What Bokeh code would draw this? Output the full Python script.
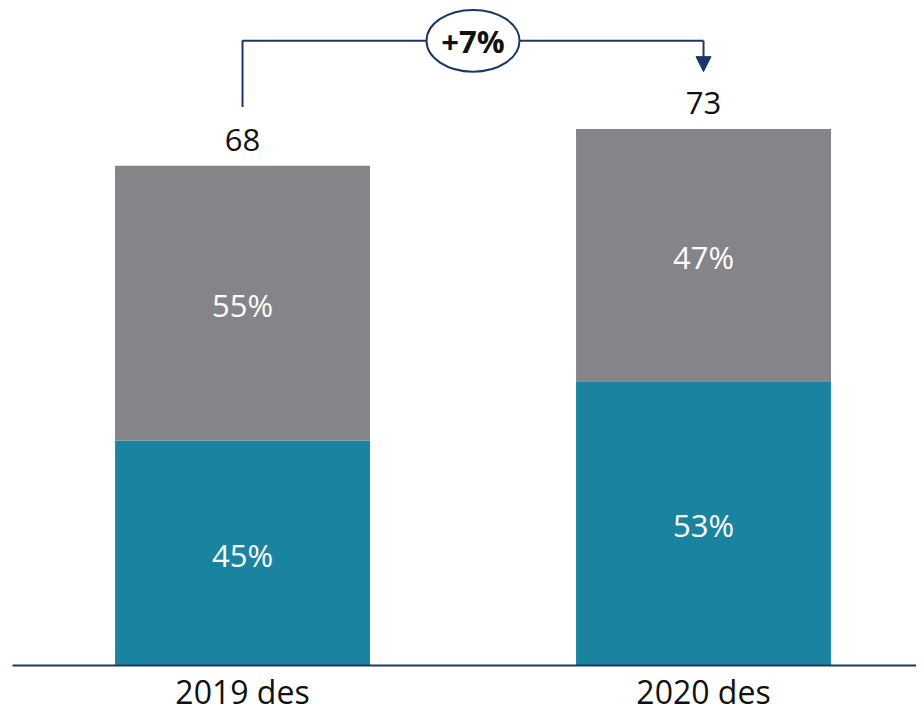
from bokeh.plotting import figure
from bokeh.models import Range1d, Arrow, NormalHead, ColumnDataSource
from bokeh.core.properties import value
from bokeh.embed import file_html
from bokeh.resources import INLINE

categories = ["2019 des", "2020 des"]
totals = [68, 73]
teal_share = [45, 53]
gray_share = [55, 47]

TEAL = "#1A84A0"
GRAY = "#858589"
NAVY = "#1B3767"
FONT = "Open Sans"

xs = list(range(len(categories)))
teal_vals = [t * s / 100 for t, s in zip(totals, teal_share)]
gray_vals = [t - v for t, v in zip(totals, teal_vals)]

X0, X1 = -0.525, 1.462
p = figure(width=916, height=713, output_backend="svg", toolbar_location=None,
           x_range=Range1d(X0, X1), y_range=Range1d(-6.53, 90.48),
           x_axis_location=None, y_axis_location=None,
           min_border=0)
p.xgrid.visible = False
p.ygrid.visible = False
p.outline_line_color = None
p.background_fill_color = "white"
p.border_fill_color = "white"

src = ColumnDataSource(dict(x=xs, teal=teal_vals, gray_top=totals,
                            teal_mid=[v / 2 for v in teal_vals],
                            gray_mid=[v + g / 2 for v, g in zip(teal_vals, gray_vals)],
                            teal_lbl=[f"{s}%" for s in teal_share],
                            gray_lbl=[f"{s}%" for s in gray_share],
                            tot_lbl=[str(t) for t in totals], tot=totals,
                            zero=[0] * len(xs), cat=categories))

p.vbar(x="x", bottom=0, top="teal", width=0.553, fill_color=TEAL, line_color=None, source=src)
p.vbar(x="x", bottom="teal", top="gray_top", width=0.553, fill_color=GRAY, line_color=None, source=src)

# baseline (category axis line)
p.segment(x0=[X0 + 12 / 461], y0=[0], x1=[X1], y1=[0], line_color=NAVY, line_width=2)

p.text(x="x", y="teal_mid", text="teal_lbl", source=src, text_color="white",
       text_font=value(FONT), text_font_size="31px", text_align="center",
       text_baseline="middle", y_offset=2)
p.text(x="x", y="gray_mid", text="gray_lbl", source=src, text_color="white",
       text_font=value(FONT), text_font_size="31px", text_align="center",
       text_baseline="middle", y_offset=2)
p.text(x="x", y="tot", text="tot_lbl", source=src, text_color="#111111",
       text_font=value(FONT), text_font_size="31px", text_align="center",
       text_baseline="middle", y_offset=-26)
p.text(x="x", y="zero", text="cat", source=src, text_color="#111111",
       text_font=value(FONT), text_font_size="32px", text_align="center",
       text_baseline="bottom", y_offset=47)

# growth bracket
top_y = max(totals) + 12
p.line(x=[xs[0], xs[0], xs[1]], y=[totals[0] + 8, top_y, top_y], line_color=NAVY, line_width=2)
p.add_layout(Arrow(end=NormalHead(size=15, fill_color=NAVY, line_color=NAVY),
                   x_start=xs[1], y_start=top_y, x_end=xs[1], y_end=totals[1] + 7.8,
                   line_color=NAVY, line_width=2))
growth = round((totals[1] / totals[0] - 1) * 100)
mid_x = (xs[0] + xs[1]) / 2
p.ellipse(x=[mid_x], y=[top_y], width=0.2017, height=8.4, fill_color="white",
          line_color=NAVY, line_width=2)
p.text(x=[mid_x], y=[top_y], text=[f"+{growth}%"], text_color="#111111",
       text_font=value(FONT), text_font_size="31px", text_font_style="bold",
       text_align="center", text_baseline="middle")

open("out.html", "w").write(file_html(p, INLINE))
